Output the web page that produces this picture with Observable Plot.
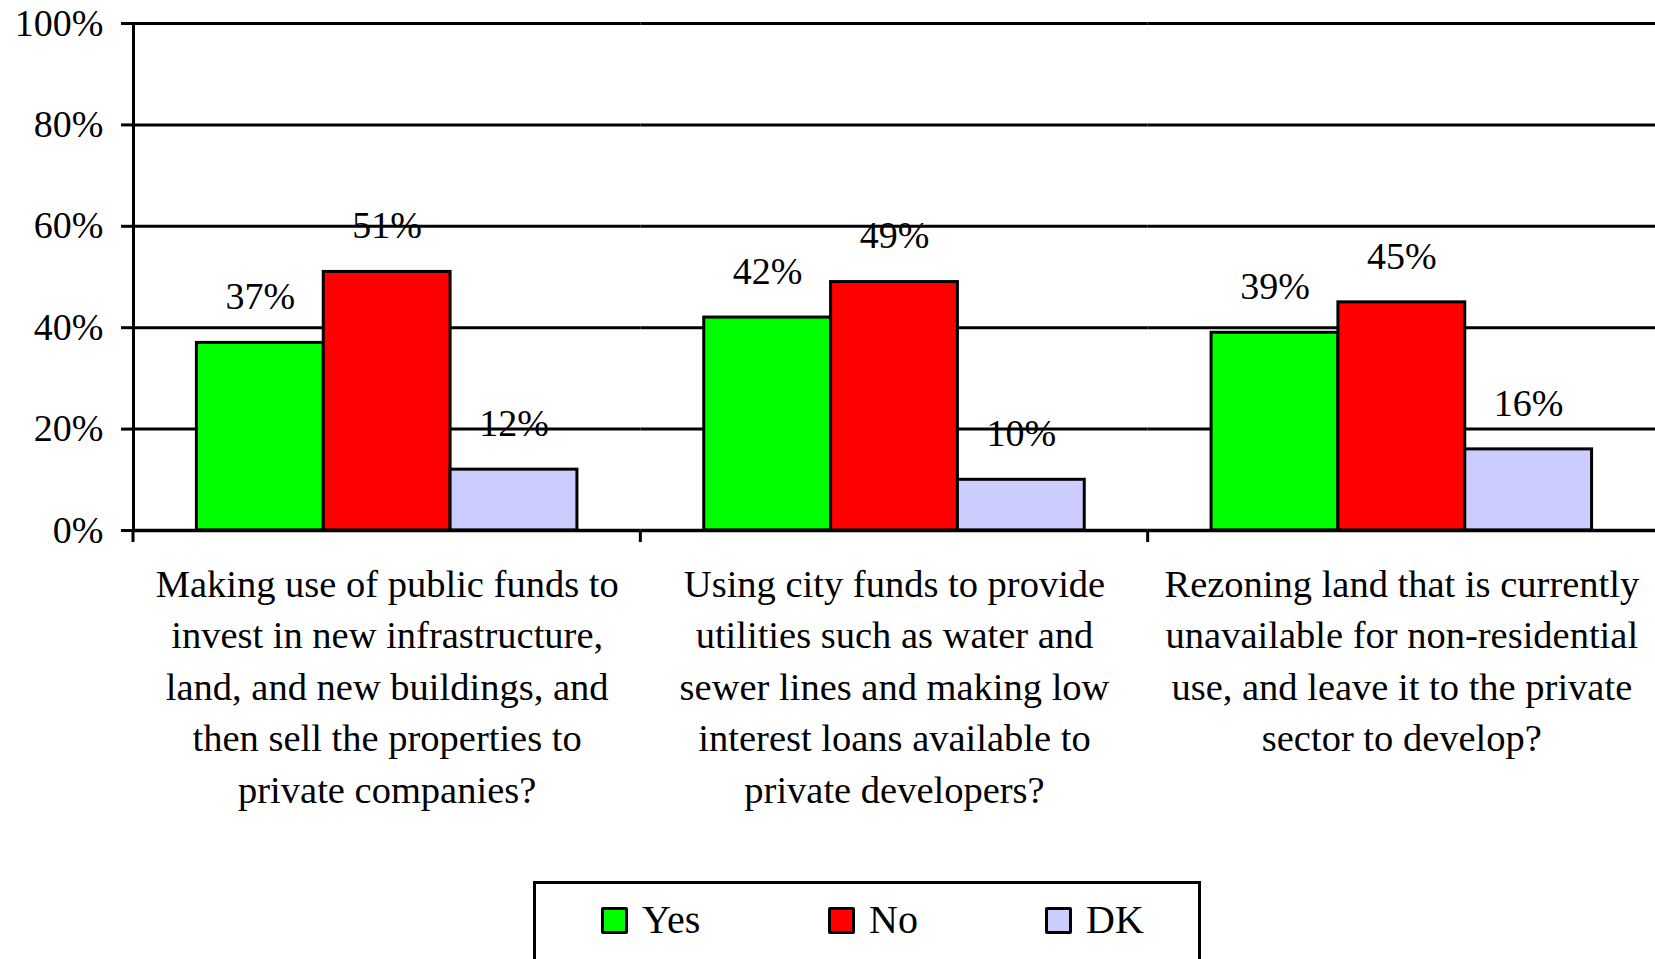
<!DOCTYPE html>
<html>
<head>
<meta charset="utf-8">
<script src="https://cdn.jsdelivr.net/npm/d3@7"></script>
<script src="https://cdn.jsdelivr.net/npm/@observablehq/plot@0.6"></script>
<style>
  html, body { margin: 0; padding: 0; background: white; overflow: hidden; }
  #wrap { position: relative; width: 1655px; height: 959px; }
  #legend {
    position: absolute; left: 533px; top: 881px; width: 668px; height: 120px;
    border: 3px solid black; box-sizing: border-box; background: white;
    font-family: "Liberation Serif", "Times New Roman", serif; font-size: 40px; color: black;
  }
  #legend .item { position: absolute; top: 14px; height: 44px; line-height: 44px; display: flex; align-items: center; }
  #legend .sw { width: 21px; height: 21px; border: 3px solid black; border-radius: 2px; margin-right: 14px; }
</style>
</head>
<body>
<div id="wrap">
  <div id="chart"></div>
  <div id="legend"></div>
</div>
<script>
const categories = [
  "Making use of public funds to\ninvest in new infrastructure,\nland, and new buildings, and\nthen sell the properties to\nprivate companies?",
  "Using city funds to provide\nutilities such as water and\nsewer lines and making low\ninterest loans available to\nprivate developers?",
  "Rezoning land that is currently\nunavailable for non-residential\nuse, and leave it to the private\nsector to develop?"
];
const series = ["Yes", "No", "DK"];
const yesValues = [37, 42, 39];
const noValues = [51, 49, 45];
const dkValues = [12, 10, 16];
const colors = ["#00ff00", "#ff0000", "#ccccff"];
const yTicks = [0, 20, 40, 60, 80, 100];

const valuesBySeries = {Yes: yesValues, No: noValues, DK: dkValues};
const rows = [];
categories.forEach((c, i) => {
  series.forEach(s => rows.push({cat: c, series: s, value: valuesBySeries[s][i]}));
});

// short ticks below the baseline at each category boundary (left edge of each facet)
const boundaryTicks = (index, scales, values, dimensions) => {
  const g = d3.create("svg:g");
  const x0 = dimensions.marginLeft;
  const y0 = scales.y(0);
  g.append("line")
    .attr("x1", x0).attr("x2", x0)
    .attr("y1", y0).attr("y2", y0 + 12)
    .attr("stroke", "black").attr("stroke-width", 3);
  return g.node();
};

const chart = Plot.plot({
  width: 1655,
  height: 880,
  marginLeft: 133,
  marginRight: 0,
  marginTop: 23,
  marginBottom: 350,
  style: {fontFamily: "'Liberation Serif', 'Times New Roman', serif", fontSize: "38px", color: "black", background: "white"},
  fx: {domain: categories, paddingInner: 0, paddingOuter: 0, round: false, label: null},
  x: {domain: series, paddingInner: 0, paddingOuter: 0.5, round: false, axis: null},
  y: {domain: [0, 100], label: null},
  color: {domain: series, range: colors},
  marks: [
    Plot.gridY({ticks: yTicks.filter(d => d > 0), stroke: "black", strokeOpacity: 1, strokeWidth: 3}),
    Plot.axisY({ticks: yTicks, tickFormat: d => d + "%", tickSize: 12, tickPadding: 18, strokeWidth: 3, fontSize: 38, label: null}),
    Plot.frame({anchor: "left", facetAnchor: "left", strokeWidth: 3}),
    Plot.barY(rows, {fx: "cat", x: "series", y: "value", fill: "series", stroke: "black", strokeWidth: 3}),
    Plot.ruleY([0], {strokeWidth: 3.5}),
    boundaryTicks,
    Plot.text(rows, {fx: "cat", x: "series", y: "value", text: d => d.value + "%", dy: -46, fontSize: 38}),
    Plot.axisFx({anchor: "bottom", tickSize: 0, tickPadding: 30, fontSize: 38.5, lineHeight: 1.335, label: null, tickFormat: d => d})
  ]
});
document.getElementById("chart").appendChild(chart);

const legend = document.getElementById("legend");
const legendOffsets = [65, 292, 509];
series.forEach((s, i) => {
  const item = document.createElement("div");
  item.className = "item";
  item.style.left = legendOffsets[i] + "px";
  const sw = document.createElement("div");
  sw.className = "sw";
  sw.style.background = colors[i];
  const t = document.createElement("span");
  t.textContent = s;
  item.appendChild(sw);
  item.appendChild(t);
  legend.appendChild(item);
});
</script>
</body>
</html>
